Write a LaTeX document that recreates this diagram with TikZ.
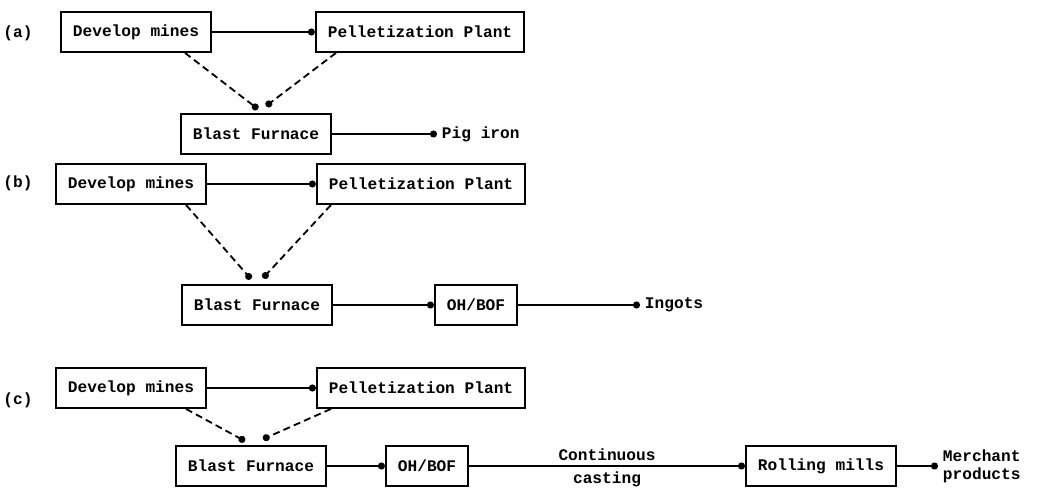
\documentclass[tikz,border=0pt]{standalone}
\usepackage{fontspec}
\setmonofont{Liberation Mono}
\usetikzlibrary{arrows.meta,calc}
\tikzset{
    stage/.style={draw,line width=1.3pt,minimum height=1cm,inner xsep=0.3cm,
      font=\ttfamily\bfseries\fontsize{11.5}{13}\selectfont},
    tag/.style={font=\ttfamily\bfseries\fontsize{11.5}{13}\selectfont},
    flow/.style={line width=1.3pt,-{Circle[length=5pt]}},
    feed/.style={flow,dash pattern=on 5pt off 3pt},
  }
\begin{document}
\begin{tikzpicture}[x=0.025cm,y=-0.025cm]
  \useasboundingbox (0,0) rectangle (1037,487);
  %(a) PIG IRON
  \node[tag] (la) at (18,33) {(a)};
  \node[stage] (dma) at (136,32) {Develop mines};
  \node[stage] (ppa) at (420,32) {Pelletization Plant};
  \node[stage] (bfa) at (256,134) {Blast Furnace};
  \node[tag,anchor=west] (pia) at (437,134) {Pig iron};
  \draw[flow] (dma) -- (ppa);
  \draw[feed] ($(dma.south)+(49,0)$) -- ($(bfa.north)+(2,-4)$);
  \draw[feed] ($(ppa.south)+(-84,0)$) -- ($(bfa.north)+(10,-7)$);
  \draw[flow] (bfa) -- (pia);
  %(b) INGOTS
  \node[tag] (lb) at (18,183) {(b)};
  \node[stage] (dmb) at (131,184) {Develop mines};
  \node[stage] (ppb) at (421,184) {Pelletization Plant};
  \node[stage] (bfb) at (257,305) {Blast Furnace};
  \node[stage] (obb) at (476,305) {OH/BOF};
  \node[tag,anchor=west] (igb) at (640,305) {Ingots};
  \draw[flow] (dmb) -- (ppb);
  \draw[feed] ($(dmb.south)+(55,0)$) -- ($(bfb.north)+(-6,-5)$);
  \draw[feed] ($(ppb.south)+(-90,0)$) -- ($(bfb.north)+(6,-6)$);
  \draw[flow] (bfb) -- (obb);
  \draw[flow] (obb) -- (igb);
  %(c) MERCHANT PRODUCTS
  \node[tag] (lc) at (18,400) {(c)};
  \node[stage] (dmc) at (131,388) {Develop mines};
  \node[stage] (ppc) at (421,388) {Pelletization Plant};
  \node[stage] (bfc) at (251,466) {Blast Furnace};
  \node[stage] (ohc) at (427,466) {OH/BOF};
  \node[stage] (rmc) at (821,466) {Rolling mills};
  \node[tag,anchor=west,align=left] (mpc) at (938,466) {Merchant\\products};
  \draw[flow] (dmc) -- (ppc);
  \draw[feed] ($(dmc.south)+(55,0)$) -- ($(bfc.north)+(-6,-4)$);
  \draw[feed] ($(ppc.south)+(-90,0)$) -- ($(bfc.north)+(12,-6)$);
  \draw[flow] (bfc) -- (ohc);
  \draw[flow] (ohc) -- node[tag,above] {Continuous} node[tag,below] {casting} (rmc);
  \draw[flow] (rmc) -- (mpc);
\end{tikzpicture}
\end{document}
